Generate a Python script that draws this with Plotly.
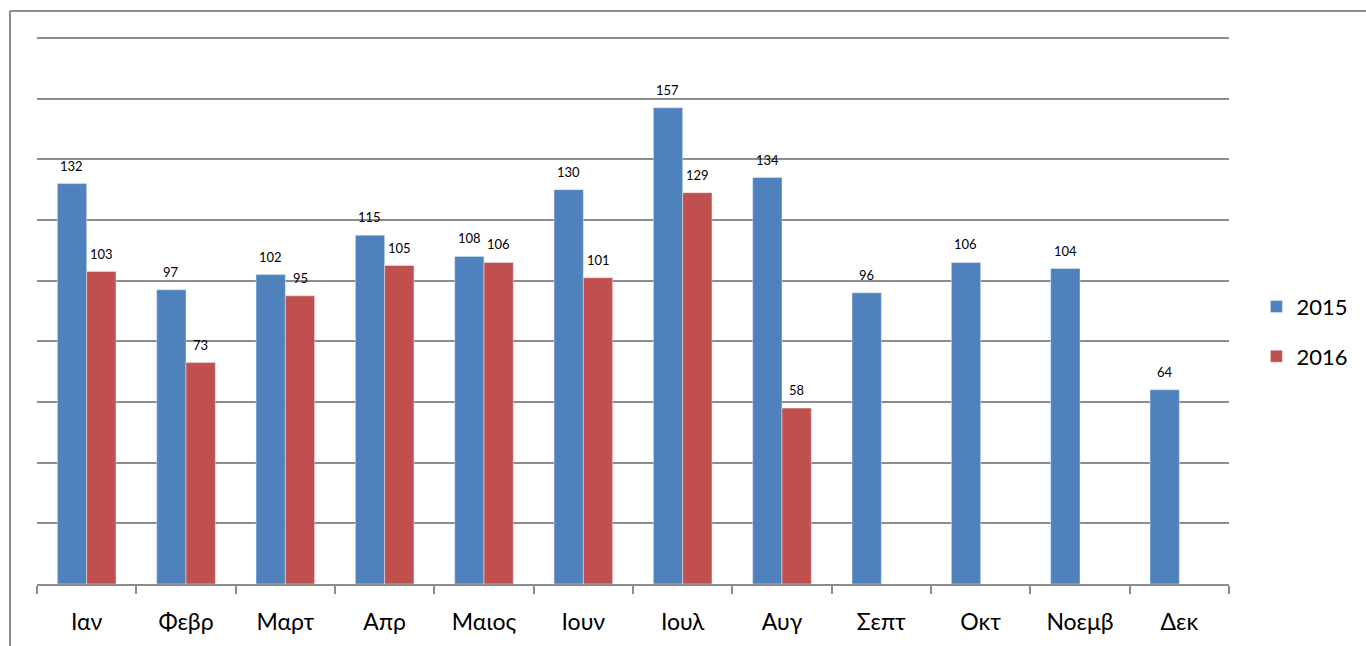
import plotly.graph_objects as go

months = ["Ιαν", "Φεβρ", "Μαρτ", "Απρ", "Μαιος", "Ιουν", "Ιουλ", "Αυγ", "Σεπτ", "Οκτ", "Νοεμβ", "Δεκ"]
vals_2015 = [132, 97, 102, 115, 108, 130, 157, 134, 96, 106, 104, 64]
vals_2016 = [103, 73, 95, 105, 106, 101, 129, 58, None, None, None, None]

BLUE = "#4f81bd"
RED = "#c0504d"
GRID = "#8c8c8c"
FONT = "Lato, 'Open Sans', sans-serif"
Y_MAX = 180

fig = go.Figure()
fig.add_trace(go.Bar(x=months, y=vals_2015, name="2015", marker_color=BLUE, legendgroup="a"))
fig.add_trace(go.Bar(x=months, y=vals_2016, name="2016", marker_color=RED, legendgroup="b"))

# value labels above each bar
ann = []
for series, off in ((vals_2015, -0.148), (vals_2016, 0.148)):
    for i, v in enumerate(series):
        if v is None:
            continue
        ann.append(dict(x=i + off, y=v, xref="x", yref="y", text=str(v), showarrow=False,
                        yshift=18, font=dict(size=13, color="#000000", family=FONT)))

W, H = 1366, 646
L, R, T, B = 37, 137, 38, 62
pw = W - L - R
ph = H - T - B

def px_x(p):
    return (p - L) / pw

def px_y(p):
    return 1 - (p - T) / ph

shapes = [
    # outer frame (top and left edges)
    dict(type="line", xref="paper", yref="paper", x0=px_x(10), x1=px_x(W + 5), y0=px_y(11), y1=px_y(11),
         line=dict(color=GRID, width=2)),
    dict(type="line", xref="paper", yref="paper", x0=px_x(10), x1=px_x(10), y0=px_y(11), y1=px_y(H + 5),
         line=dict(color=GRID, width=2)),
    # gridline at the top of the value range (plot area top)
    dict(type="line", xref="paper", yref="paper", x0=0, x1=1, y0=1, y1=1,
         line=dict(color=GRID, width=2), layer="below"),
]

fig.update_layout(
    width=W, height=H,
    margin=dict(l=L, r=R, t=T, b=B),
    paper_bgcolor="white", plot_bgcolor="white",
    barmode="group", bargap=0.41, bargroupgap=0,
    font=dict(family=FONT, color="#000000"),
    showlegend=True,
    legend=dict(x=1.023, xanchor="left", xref="paper", y=0.462, yanchor="middle",
                font=dict(size=22, family=FONT), itemwidth=30, tracegroupgap=18,
                bgcolor="rgba(0,0,0,0)"),
    annotations=ann,
    shapes=shapes,
)
fig.update_xaxes(
    type="category", showgrid=False, showline=True, linecolor=GRID, linewidth=2,
    ticks="outside", ticklen=8, tickcolor=GRID, tickwidth=2, tickson="boundaries",
    tickfont=dict(size=23, family=FONT, color="#000000"), ticklabelstandoff=16,
)
fig.update_yaxes(
    range=[0, Y_MAX], dtick=20, showgrid=True, gridcolor=GRID, gridwidth=2,
    showticklabels=False, zeroline=False, showline=False,
)

fig.write_html("out.html")
